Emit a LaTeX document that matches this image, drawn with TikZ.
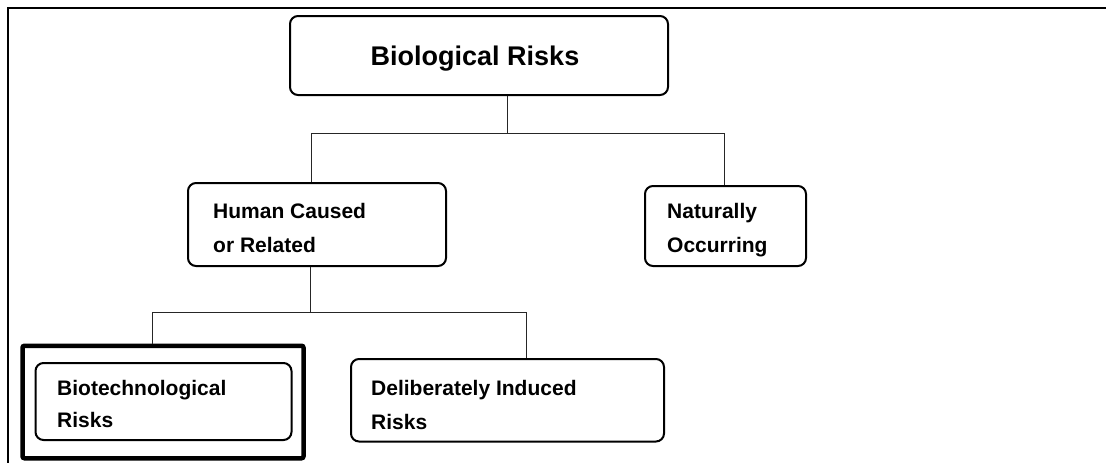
\documentclass[tikz,border=0pt]{standalone}
\usepackage{fontspec}
\setmainfont{Liberation Sans}
\begin{document}
\begin{tikzpicture}[x=1pt,y=-1pt,
  box/.style={draw, line width=2pt, rounded corners=8pt, inner sep=0pt},
  thickbox/.style={draw, line width=4.5pt, rounded corners=2pt, inner sep=0pt},
  link/.style={draw=black!85, line width=1pt},
  lbl/.style={anchor=base west, inner sep=0pt, font=\bfseries\fontsize{21}{25}\selectfont},
  ttl/.style={anchor=base, inner sep=0pt, font=\bfseries\fontsize{27}{32}\selectfont},
]
\useasboundingbox (0,0) rectangle (1106,463);
% frame (top and left edges)
\draw[line width=2.3pt] (8,463) -- (8,8) -- (1106,8);

% boxes
\node[box, minimum width=378pt, minimum height=79pt] (top) at (479,55.5) {};
\node[box, minimum width=258pt, minimum height=83pt] (human) at (317,224.5) {};
\node[box, minimum width=161pt, minimum height=80pt] (nat) at (725.5,226) {};
\node[thickbox, minimum width=281pt, minimum height=112.5pt] (frame) at (163,402) {};
\node[box, minimum width=256pt, minimum height=77pt] (bio) at (163.5,401.5) {};
\node[box, minimum width=313pt, minimum height=82.5pt] (delib) at (507.5,400.25) {};

% texts
\node[ttl] (t-top) at (475,65) {Biological Risks};
\node[lbl] (t-h1) at (213,218) {Human Caused};
\node[lbl] (t-h2) at (213,252) {or Related};
\node[lbl] (t-n1) at (667,218) {Naturally};
\node[lbl] (t-n2) at (667,252) {Occurring};
\node[lbl] (t-b1) at (57,395) {Biotechnological};
\node[lbl] (t-b2) at (57,427) {Risks};
\node[lbl] (t-d1) at (371,395) {Deliberately Induced};
\node[lbl] (t-d2) at (371,429) {Risks};

% connectors
\coordinate (j0) at (507,133);
\coordinate (ja) at (311,133);
\coordinate (jb) at (724,133);
\draw[link] (top.south -| j0) -- (j0);
\draw[link] (ja) -- (jb);
\draw[link] (ja) -- (ja |- human.north);
\draw[link] (jb) -- (jb |- nat.north);
\coordinate (jc) at (310,312);
\coordinate (jd) at (152,312);
\coordinate (je) at (526,312);
\draw[link] (human.south -| jc) -- (jc);
\draw[link] (jd) -- (je);
\draw[link] (jd) -- (jd |- frame.north);
\draw[link] (je) -- (je |- delib.north);
\end{tikzpicture}
\end{document}
